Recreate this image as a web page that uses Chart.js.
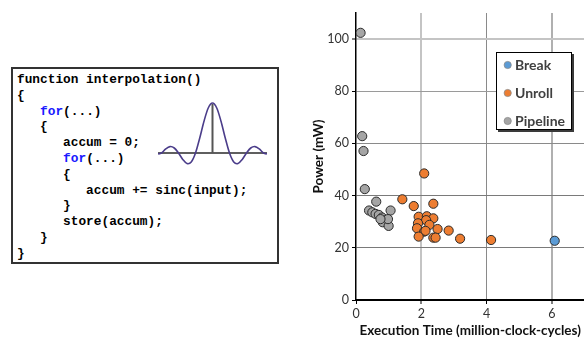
<!DOCTYPE html>
<html>
<head>
<meta charset="utf-8">
<script src="https://cdn.jsdelivr.net/npm/chart.js@4.4.1/dist/chart.umd.min.js"></script>
<style>
  html, body { margin:0; padding:0; background:#fff; }
  body { width:584px; height:339px; overflow:hidden; position:relative; }
  #code {
    position:absolute; left:11px; top:67px; width:268px; height:197px;
    box-sizing:border-box; border:2px solid #333; background:#fff;
  }
  #code pre {
    margin:0; padding:3px 0 0 4px;
    font-family:"Liberation Mono", "DejaVu Sans Mono", monospace;
    font-weight:bold; font-size:12.8px; line-height:15.8px; color:#000;
  }
  #code .kw { color:#1a1aff; }
  #sinc { position:absolute; left:0; top:0; pointer-events:none; }
  #chartWrap { position:absolute; left:300px; top:0; width:290px; height:339px; }
</style>
</head>
<body>
<div id="code"><pre>function interpolation()
{
   <span class="kw">for</span>(...)
   {
      accum = 0;
      <span class="kw">for</span>(...)
      {
         accum += sinc(input);
      }
      store(accum);
   }
}</pre></div>
<svg id="sinc" width="300" height="339" viewBox="0 0 300 339"></svg>
<div id="chartWrap"><canvas id="c" width="290" height="339"></canvas></div>
<script>
// ---- data ----
const seriesNames = ["Break", "Unroll", "Pipeline"];
const breakX = [6.09];
const breakY = [22.7];
const unrollX = [1.42, 1.77, 2.09, 2.37, 1.92, 2.17, 2.37, 2.15, 1.90, 2.25, 1.87, 2.50, 2.09, 2.13, 2.84, 1.92, 2.37, 2.44, 3.19, 4.14];
const unrollY = [38.6, 36.0, 48.5, 36.9, 31.9, 32.1, 31.3, 30.6, 29.4, 28.8, 27.5, 27.2, 26.2, 26.5, 26.6, 24.3, 23.9, 23.9, 23.5, 23.0];
const pipelineX = [0.14, 0.19, 0.23, 0.27, 0.62, 0.40, 0.50, 0.60, 0.70, 0.80, 0.90, 1.06, 0.82, 1.00, 0.98, 0.75];
const pipelineY = [102.4, 62.8, 57.1, 42.5, 37.7, 34.3, 33.6, 33.0, 32.6, 31.6, 30.6, 34.3, 29.8, 28.4, 31.0, 31.0];
const xTickValues = [0, 2, 4, 6];
const yTickValues = [0, 20, 40, 60, 80, 100];
const xTitle = "Execution Time (million-clock-cycles)";
const yTitle = "Power (mW)";

// ---- decorative sinc illustration (hand-read outline points) ----
const sincPts = [
  [158.1,154],[161.5,153],[165.75,148.9],[170,146.6],[174.25,148.0],[178.5,153],[182.75,159.4],[187,163.6],
  [191.25,162.0],[195.5,153],[199.75,138.0],[204,121.2],[208.25,108.0],[212.5,103],[216.75,108.0],[221,121.2],
  [225.25,138.0],[229.5,153],[233.75,162.0],[238,163.6],[242.25,159.4],[246.5,153],[250.75,148.0],[255,146.6],
  [259.25,148.9],[263.5,153],[266.9,154]
];
(function drawSinc(){
  const svg = document.getElementById('sinc');
  const ns = 'http://www.w3.org/2000/svg';
  function line(x1,y1,x2,y2,c,w){
    const l = document.createElementNS(ns,'line');
    l.setAttribute('x1',x1);l.setAttribute('y1',y1);l.setAttribute('x2',x2);l.setAttribute('y2',y2);
    l.setAttribute('stroke',c);l.setAttribute('stroke-width',w);svg.appendChild(l);
  }
  line(158,153,267,153,'#2a2a2a',1.5);
  line(212.5,153,212.5,104,'#555',2);
  let d = 'M' + sincPts[0][0] + ' ' + sincPts[0][1];
  for (let i = 0; i < sincPts.length - 1; i++) {
    const p0 = sincPts[Math.max(i-1,0)], p1 = sincPts[i], p2 = sincPts[i+1], p3 = sincPts[Math.min(i+2,sincPts.length-1)];
    const c1 = [p1[0] + (p2[0]-p0[0])/6, p1[1] + (p2[1]-p0[1])/6];
    const c2 = [p2[0] - (p3[0]-p1[0])/6, p2[1] - (p3[1]-p1[1])/6];
    d += ' C' + c1.join(' ') + ' ' + c2.join(' ') + ' ' + p2.join(' ');
  }
  const path = document.createElementNS(ns,'path');
  path.setAttribute('d', d); path.setAttribute('fill','none');
  path.setAttribute('stroke','#4b3d8a'); path.setAttribute('stroke-width','1.6');
  svg.appendChild(path);
})();

// ---- chart ----
const colors = ["#5B9BD5", "#ED7D31", "#A5A5A5"];
const toPts = (xs, ys) => xs.map((x, i) => ({x, y: ys[i]}));
const FONT = "Lato, 'Open Sans', sans-serif";

const legendBox = {
  id: 'legendBox',
  afterDraw(chart) {
    const ctx = chart.ctx;
    const a = chart.chartArea;
    const L = a.left + 140, T = a.top + 39, W = 76, H = 78;
    ctx.save();
    ctx.fillStyle = '#3a3a3a';
    ctx.fillRect(L + 2, T + 2, W, H);
    ctx.fillStyle = '#fff';
    ctx.fillRect(L, T, W, H);
    ctx.strokeStyle = '#000'; ctx.lineWidth = 1;
    ctx.strokeRect(L + 0.5, T + 0.5, W - 1, H - 1);
    chart.data.datasets.forEach((ds, i) => {
      const cy = T + 13 + i * 28;
      ctx.beginPath();
      ctx.arc(L + 11.7, cy, 3.6, 0, Math.PI * 2);
      ctx.fillStyle = ds.backgroundColor; ctx.fill();
      ctx.strokeStyle = '#8a8a8a'; ctx.lineWidth = 0.8; ctx.stroke();
      ctx.fillStyle = '#404040';
      ctx.font = "bold 14px " + FONT;
      ctx.textBaseline = 'middle'; ctx.textAlign = 'left';
      ctx.fillText(ds.label, L + 19, cy);
    });
    ctx.restore();
  }
};

const yGrid = {20:['#7a7a7a',1],40:['#7a7a7a',1],60:['#8a8a8a',1],80:['#9a9a9a',1],100:['#c4c4c4',2]};
const xGrid = {2:['#c4c4c4',2],4:['#8a8a8a',1],6:['#b0b0b0',2]};

new Chart(document.getElementById('c'), {
  type: 'scatter',
  data: {
    datasets: [
      {label: seriesNames[0], data: toPts(breakX, breakY), backgroundColor: colors[0]},
      {label: seriesNames[1], data: toPts(unrollX, unrollY), backgroundColor: colors[1]},
      {label: seriesNames[2], data: toPts(pipelineX, pipelineY), backgroundColor: colors[2]}
    ].map(d => Object.assign(d, {borderColor: '#2b2b2b', borderWidth: 1, pointRadius: 4.6}))
  },
  plugins: [legendBox],
  options: {
    responsive: false,
    animation: false,
    devicePixelRatio: 1,
    layout: {padding: {top: 13, left: 0, right: 1, bottom: 0}},
    plugins: {legend: {display: false}, tooltip: {enabled: false}},
    scales: {
      x: {
        type: 'linear', min: 0, max: 7,
        afterFit: s => { s.height = 39; },
        afterBuildTicks: s => { s.ticks = xTickValues.map(v => ({value: v})); },
        ticks: {includeBounds: false, padding: 2, color: '#333', font: {family: FONT, size: 12.5}},
        grid: {
          color: c => (xGrid[c.tick && c.tick.value] || ['rgba(0,0,0,0)',1])[0],
          lineWidth: c => (xGrid[c.tick && c.tick.value] || ['',1])[1],
          tickColor: '#000', tickLength: 4, tickWidth: 1
        },
        border: {color: '#000', width: 2},
        title: {display: true, text: xTitle, color: '#111', padding: {top: 0, bottom: 0},
                font: {family: FONT, size: 13.5, weight: 'bold'}}
      },
      y: {
        type: 'linear', min: 0, max: 110,
        afterFit: s => { s.width = 56; },
        afterBuildTicks: s => { s.ticks = yTickValues.map(v => ({value: v})); },
        ticks: {includeBounds: false, padding: 3, color: '#333', font: {family: FONT, size: 12.5}},
        grid: {
          color: c => (yGrid[c.tick && c.tick.value] || ['rgba(0,0,0,0)',1])[0],
          lineWidth: c => (yGrid[c.tick && c.tick.value] || ['',1])[1],
          tickColor: '#000', tickLength: 4, tickWidth: 1
        },
        border: {color: '#000', width: 1.5},
        title: {display: true, text: yTitle, color: '#111', padding: {top: 11, bottom: 0},
                font: {family: FONT, size: 13.5, weight: 'bold'}}
      }
    }
  }
});
</script>
</body>
</html>
